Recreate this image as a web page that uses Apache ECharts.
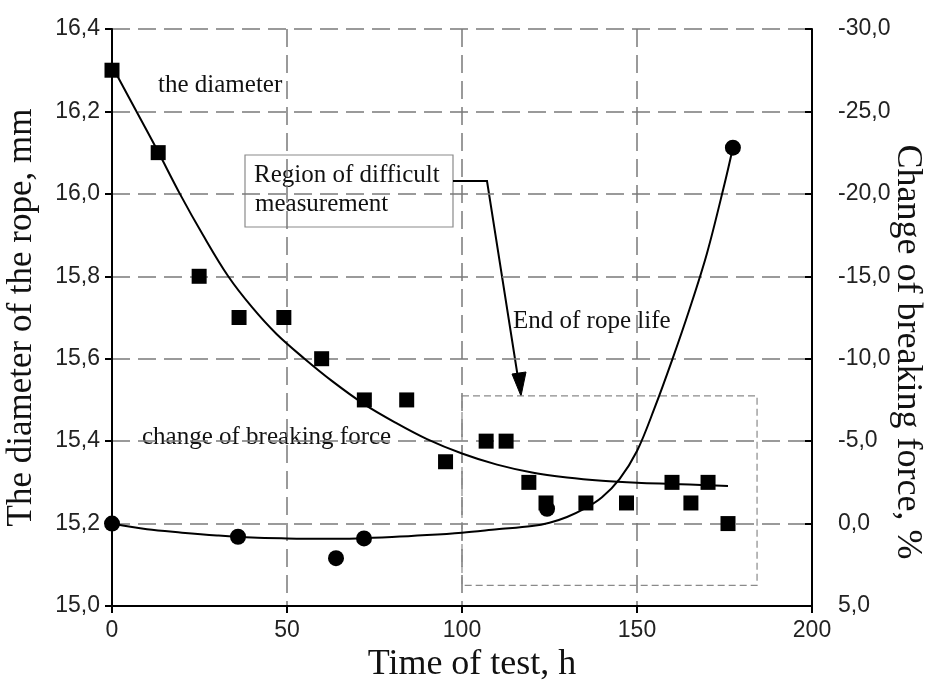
<!DOCTYPE html>
<html>
<head>
<meta charset="utf-8">
<script src="https://cdn.jsdelivr.net/npm/echarts@6/dist/echarts.min.js"></script>
<style>
html,body{margin:0;padding:0;background:#fff;overflow:hidden;}
#chart{width:935px;height:687px;}
</style>
</head>
<body>
<div id="chart"></div>
<script>
// ---- data ----
var xTicks = [0, 50, 100, 150, 200];
var diameterTicks = [15.0, 15.2, 15.4, 15.6, 15.8, 16.0, 16.2, 16.4];
var forceTicks = [-30, -25, -20, -15, -10, -5, 0, 5];

// measured diameter (squares), [time h, diameter mm]
var diameterPoints = [
  [0, 16.3], [13.2, 16.1], [24.9, 15.8], [36.3, 15.7], [49.1, 15.7],
  [59.9, 15.6], [72.1, 15.5], [84.2, 15.5], [95.3, 15.35], [106.9, 15.4],
  [112.6, 15.4], [119.1, 15.3], [124, 15.25], [135.4, 15.25], [147, 15.25],
  [160, 15.3], [165.4, 15.25], [170.3, 15.3], [176, 15.2]
];
// fitted diameter curve
var diameterCurve = [
  [0, 16.31], [7, 16.20], [13, 16.105], [19.4, 16.00], [26, 15.90], [33.2, 15.80],
  [40, 15.725], [47, 15.66], [55, 15.60], [63, 15.545], [72, 15.49], [81, 15.445],
  [90, 15.405], [100, 15.37], [110, 15.343], [120, 15.324], [130, 15.312],
  [140, 15.304], [150, 15.299], [160, 15.296], [170, 15.293], [176, 15.291]
];
// measured change of breaking force (circles), [time h, %]
var forcePoints = [
  [0, 0.0], [36, 0.8], [64, 2.1], [72, 0.9], [124.3, -0.9], [177.4, -22.8]
];
// fitted breaking force curve
var forceCurve = [
  [0, 0.0], [10, 0.35], [20, 0.55], [30, 0.72], [40, 0.85], [50, 0.9], [60, 0.92],
  [70, 0.9], [80, 0.82], [90, 0.7], [100, 0.55], [110, 0.35], [120, 0.15], [125, -0.05],
  [130, -0.4], [135, -0.9], [140, -1.6], [145, -2.7], [150, -4.4], [155, -7.0],
  [160, -9.9], [165, -13.0], [170, -16.4], [175, -20.6], [177.4, -22.8]
];
// dashed "region of difficult measurement" box: [x0, x1] h, [y0, y1] mm
var regionX = [100, 184.3];
var regionY = [15.05, 15.51];

var serif = '"Liberation Serif", "Times New Roman", serif';
var sans = '"Liberation Sans", Arial, sans-serif';
var gridColor = '#7a7a7a';
var textColor = '#111';

function comma(v) { return v.toFixed(1).replace('.', ','); }

var chart = echarts.init(document.getElementById('chart'), null, {renderer: 'canvas'});
chart.setOption({
  backgroundColor: '#ffffff',
  animation: false,
  grid: {left: 112, right: 123, top: 29, bottom: 81, containLabel: false, outerBoundsMode: 'none'},
  xAxis: {
    type: 'value', min: xTicks[0], max: xTicks[xTicks.length - 1], interval: 50,
    name: 'Time of test, h', nameLocation: 'middle', nameGap: 37,
    nameTextStyle: {fontFamily: serif, fontSize: 36, color: textColor, padding: [0, 0, 0, 20]},
    axisLine: {show: true, onZero: false, lineStyle: {color: '#000', width: 2}},
    axisTick: {show: true, length: 7, lineStyle: {color: '#000', width: 2}},
    axisLabel: {fontFamily: sans, fontSize: 23, color: '#222', margin: 13},
    splitLine: {show: true, lineStyle: {color: gridColor, width: 1.5, type: [18, 8]}}
  },
  yAxis: [{
    type: 'value', position: 'left',
    min: diameterTicks[0], max: diameterTicks[diameterTicks.length - 1], interval: 0.2,
    name: 'The diameter of the rope, mm', nameLocation: 'middle', nameGap: 73,
    nameTextStyle: {fontFamily: serif, fontSize: 35, color: textColor},
    axisLine: {show: true, onZero: false, lineStyle: {color: '#000', width: 2}},
    axisTick: {show: true, length: 7, lineStyle: {color: '#000', width: 2}},
    axisLabel: {fontFamily: sans, fontSize: 23, color: '#222', margin: 12, formatter: comma},
    splitLine: {show: true, lineStyle: {color: gridColor, width: 1.5, type: [18, 8]}}
  }, {
    type: 'value', position: 'right', inverse: true,
    min: forceTicks[0], max: forceTicks[forceTicks.length - 1], interval: 5,
    axisLine: {show: true, onZero: false, lineStyle: {color: '#000', width: 2}},
    axisTick: {show: true, inside: true, length: 7, lineStyle: {color: '#000', width: 2}},
    axisLabel: {fontFamily: sans, fontSize: 23, color: '#222', margin: 26, formatter: comma},
    splitLine: {show: false}
  }],
  series: [{
    type: 'line', name: 'diameter fit', yAxisIndex: 0, data: diameterCurve,
    smooth: 0.35, showSymbol: false, lineStyle: {color: '#000', width: 2}, z: 3,
    markArea: {
      silent: true,
      itemStyle: {color: 'rgba(0,0,0,0)', borderColor: '#8a8a8a', borderWidth: 1.2, borderType: [7, 4]},
      data: [[{xAxis: regionX[0], yAxis: regionY[1]}, {xAxis: regionX[1], yAxis: regionY[0]}]]
    }
  }, {
    type: 'line', name: 'force fit', yAxisIndex: 1, data: forceCurve,
    smooth: 0.35, showSymbol: false, lineStyle: {color: '#000', width: 2}, z: 3
  }, {
    type: 'scatter', name: 'the diameter', yAxisIndex: 0, data: diameterPoints,
    symbol: 'rect', symbolSize: 15, itemStyle: {color: '#000', opacity: 1}, z: 5
  }, {
    type: 'scatter', name: 'change of breaking force', yAxisIndex: 1, data: forcePoints,
    symbol: 'circle', symbolSize: 16, itemStyle: {color: '#000', opacity: 1}, z: 5
  }],
  graphic: [
    {type: 'text', x: 907, y: 352, rotation: -Math.PI / 2,
     style: {text: 'Change of breaking force, %', font: '36px ' + serif, fill: textColor, align: 'center', verticalAlign: 'middle'}},
    {type: 'text', x: 158, y: 85, style: {text: 'the diameter', font: '25px ' + serif, fill: textColor, verticalAlign: 'middle'}},
    {type: 'rect', shape: {x: 245, y: 155, width: 208, height: 72}, style: {fill: null, stroke: '#8a8a8a', lineWidth: 1.2}},
    {type: 'text', x: 254, y: 175, style: {text: 'Region of difficult', font: '25px ' + serif, fill: textColor, verticalAlign: 'middle'}},
    {type: 'text', x: 255, y: 204, style: {text: 'measurement', font: '25px ' + serif, fill: textColor, verticalAlign: 'middle'}},
    {type: 'polyline', shape: {points: [[453, 181], [487, 181], [518, 378]]}, style: {stroke: '#000', lineWidth: 2, fill: null}},
    {type: 'polygon', shape: {points: [[521, 396], [512, 374], [526, 372]]}, style: {fill: '#000', stroke: '#000', lineWidth: 1}},
    {type: 'text', x: 513, y: 321, style: {text: 'End of rope life', font: '25px ' + serif, fill: textColor, verticalAlign: 'middle'}},
    {type: 'text', x: 142, y: 437, style: {text: 'change of breaking force', font: '25px ' + serif, fill: textColor, verticalAlign: 'middle'}}
  ]
});
</script>
</body>
</html>
